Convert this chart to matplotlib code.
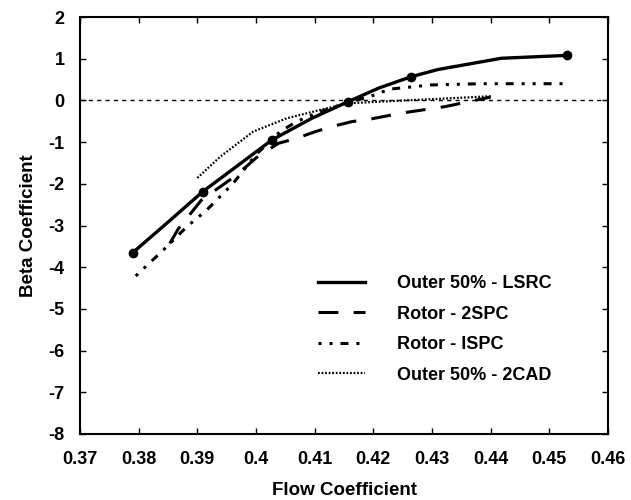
import matplotlib
matplotlib.use("Agg")
import matplotlib.pyplot as plt

plt.rcParams['font.family'] = ['Liberation Sans', 'DejaVu Sans']

# Data
lsrc_x = [0.3790, 0.3850, 0.3909, 0.3970, 0.4027, 0.4095, 0.4157, 0.4210, 0.4265, 0.4310, 0.4418, 0.4530]
lsrc_y = [-3.65, -2.92, -2.19, -1.55, -0.95, -0.43, -0.03, 0.30, 0.57, 0.74, 1.01, 1.08]
lsrc_marks = [0, 2, 4, 6, 8, 11]

spc2_x = [0.3853, 0.3868, 0.3907, 0.3967, 0.4000, 0.4038, 0.4069, 0.4101, 0.4129, 0.4163, 0.4194, 0.4250, 0.4322, 0.4400]
spc2_y = [-3.43, -3.07, -2.39, -1.79, -1.38, -1.03, -0.91, -0.75, -0.63, -0.51, -0.45, -0.30, -0.15, 0.08]

ispc_x = [0.3795, 0.3842, 0.3882, 0.3916, 0.3961, 0.4000, 0.4041, 0.4069, 0.4109, 0.4157, 0.4194, 0.4228, 0.4297, 0.4382, 0.4523]
ispc_y = [-4.21, -3.59, -3.03, -2.63, -1.99, -1.30, -0.75, -0.51, -0.27, -0.05, 0.09, 0.27, 0.37, 0.40, 0.40]

cad2_x = [0.3900, 0.3939, 0.3995, 0.4052, 0.4109, 0.4157, 0.4211, 0.4300, 0.4400]
cad2_y = [-1.86, -1.35, -0.75, -0.43, -0.23, -0.07, -0.03, 0.03, 0.10]

labels = ["Outer 50% - LSRC", "Rotor - 2SPC", "Rotor - ISPC", "Outer 50% - 2CAD"]

x_ticks = [0.37, 0.38, 0.39, 0.40, 0.41, 0.42, 0.43, 0.44, 0.45, 0.46]
x_ticklabels = ["0.37", "0.38", "0.39", "0.4", "0.41", "0.42", "0.43", "0.44", "0.45", "0.46"]
y_ticks = list(range(-8, 3))

fig = plt.figure(figsize=(6.31, 5.0), dpi=100)
ax = fig.add_axes([80/631, 1-434/500, (608-80)/631, (434-17)/500])

ax.axhline(0, color='black', lw=1.0, dashes=(3, 3))

ax.plot(lsrc_x, lsrc_y, color='black', lw=2.4, marker='o', ms=6,
        markevery=lsrc_marks, label=labels[0])
ax.plot(spc2_x, spc2_y, color='black', lw=2.2, dashes=(6.5, 5), label=labels[1])
ax.plot(ispc_x, ispc_y, color='black', lw=2.2, dashes=(1, 2.6, 1, 2.6, 2.6, 2.6), label=labels[2])
ax.plot(cad2_x, cad2_y, color='black', lw=1.6, dashes=(0.8, 0.8), label=labels[3])

ax.set_xlim(0.37, 0.46)
ax.set_ylim(-8, 2)
ax.set_xticks(x_ticks)
ax.set_xticklabels(x_ticklabels)
ax.set_yticks(y_ticks)
ax.set_yticklabels([str(v) for v in y_ticks])

ax.tick_params(direction='in', top=True, right=True, length=4, width=1,
               labelsize=13)
ax.tick_params(axis='x', pad=12)
ax.tick_params(axis='y', pad=11)
for lab in ax.get_xticklabels() + ax.get_yticklabels():
    lab.set_fontweight('bold')
for sp in ax.spines.values():
    sp.set_linewidth(1.5)

ax.set_xlabel("Flow Coefficient", fontsize=13.5, fontweight='bold', labelpad=10)
ax.set_ylabel("Beta Coefficient", fontsize=13.5, fontweight='bold', labelpad=8)

leg = ax.legend(loc='upper left', bbox_to_anchor=(318/631, 1-275/500),
                bbox_transform=fig.transFigure, frameon=False,
                handlelength=2.6, handletextpad=1.8, labelspacing=0.75,
                borderpad=0, borderaxespad=0,
                prop={'size': 13, 'weight': 'bold'})
for h in leg.get_lines():
    h.set_marker('')

fig.savefig("out.png", dpi=100)
